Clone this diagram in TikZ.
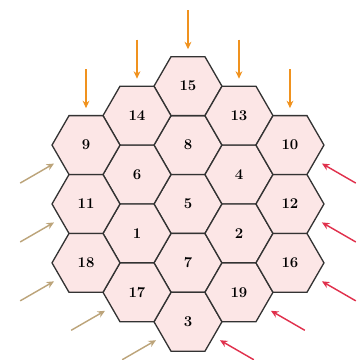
\documentclass[tikz,border=0pt]{standalone}
\definecolor{Blush}{HTML}{FCE6E6}
\definecolor{Slate}{HTML}{333333}
\definecolor{Amber}{HTML}{F0921E}
\definecolor{Khaki}{HTML}{BCA47A}
\definecolor{Crimson}{HTML}{E0304C}
\usepackage{tikz}
\usetikzlibrary{arrows.meta,shapes.geometric}

\begin{document}
\begin{tikzpicture}[
    hex/.style={regular polygon, regular polygon sides=6, draw=Slate, fill=Blush, line width=1.1pt, minimum size=2cm, inner sep=0pt, outer sep=0pt, font=\fontsize{12.5}{14}\selectfont\bfseries},
    arrow/.style={-{Stealth[length=2.2mm, width=2mm]}, line width=1.2pt},
]
    \useasboundingbox (-5.53,-4.59) rectangle (4.97,6.0);

    \node[hex] (h5) {5};
    \node[hex, anchor=270] (h8) at (h5.90) {8};
    \node[hex, anchor=270] (h15) at (h8.90) {15};
    \node[hex, anchor=90] (h7) at (h5.270) {7};
    \node[hex, anchor=90] (h3) at (h7.270) {3};
    \node[hex, anchor=330] (h6) at (h5.150) {6};
    \node[hex, anchor=270] (h14) at (h6.90) {14};
    \node[hex, anchor=90] (h1) at (h6.270) {1};
    \node[hex, anchor=90] (h17) at (h1.270) {17};
    \node[hex, anchor=210] (h4) at (h5.30) {4};
    \node[hex, anchor=270] (h13) at (h4.90) {13};
    \node[hex, anchor=90] (h2) at (h4.270) {2};
    \node[hex, anchor=90] (h19) at (h2.270) {19};
    \node[hex, anchor=330] (h11) at (h1.150) {11};
    \node[hex, anchor=270] (h9) at (h11.90) {9};
    \node[hex, anchor=90] (h18) at (h11.270) {18};
    \node[hex, anchor=210] (h12) at (h2.30) {12};
    \node[hex, anchor=270] (h10) at (h12.90) {10};
    \node[hex, anchor=90] (h16) at (h12.270) {16};

    % from above
    \draw[arrow, Amber] ([shift={(90:1.37)}]h9.90) -- ([shift={(90:0.22)}]h9.90);
    \draw[arrow, Amber] ([shift={(90:1.37)}]h14.90) -- ([shift={(90:0.22)}]h14.90);
    \draw[arrow, Amber] ([shift={(90:1.37)}]h15.90) -- ([shift={(90:0.22)}]h15.90);
    \draw[arrow, Amber] ([shift={(90:1.37)}]h13.90) -- ([shift={(90:0.22)}]h13.90);
    \draw[arrow, Amber] ([shift={(90:1.37)}]h10.90) -- ([shift={(90:0.22)}]h10.90);

    % from lower left
    \draw[arrow, Khaki] ([shift={(210:1.37)}]h9.210) -- ([shift={(210:0.22)}]h9.210);
    \draw[arrow, Khaki] ([shift={(210:1.37)}]h11.210) -- ([shift={(210:0.22)}]h11.210);
    \draw[arrow, Khaki] ([shift={(210:1.37)}]h18.210) -- ([shift={(210:0.22)}]h18.210);
    \draw[arrow, Khaki] ([shift={(210:1.37)}]h17.210) -- ([shift={(210:0.22)}]h17.210);
    \draw[arrow, Khaki] ([shift={(210:1.37)}]h3.210) -- ([shift={(210:0.22)}]h3.210);

    % from lower right
    \draw[arrow, Crimson] ([shift={(330:1.37)}]h10.330) -- ([shift={(330:0.22)}]h10.330);
    \draw[arrow, Crimson] ([shift={(330:1.37)}]h12.330) -- ([shift={(330:0.22)}]h12.330);
    \draw[arrow, Crimson] ([shift={(330:1.37)}]h16.330) -- ([shift={(330:0.22)}]h16.330);
    \draw[arrow, Crimson] ([shift={(330:1.37)}]h19.330) -- ([shift={(330:0.22)}]h19.330);
    \draw[arrow, Crimson] ([shift={(330:1.37)}]h3.330) -- ([shift={(330:0.22)}]h3.330);
\end{tikzpicture}
\end{document}
